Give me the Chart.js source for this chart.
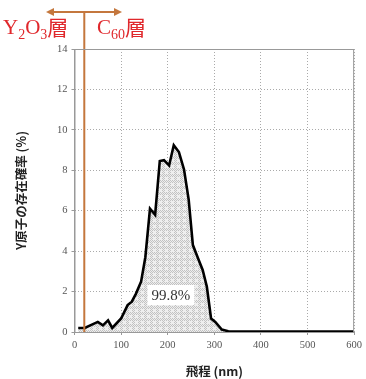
<!DOCTYPE html>
<html><head><meta charset="utf-8">
<script src="https://cdn.jsdelivr.net/npm/chart.js@4"></script>
<style>html,body{margin:0;padding:0;background:#fff;}#wrap{width:366px;height:379px;position:relative;}</style>
</head><body><div id="wrap"><canvas id="c" width="366" height="379"></canvas></div>
<script>
// Data
const rangeNm = [8, 22, 50, 61, 72, 81, 100, 114, 123, 132, 143, 152, 162, 173, 183, 192, 203, 213, 224, 235, 245, 254, 265, 275, 284, 293, 302, 316, 330, 600];
const probability = [0.2, 0.2, 0.5, 0.33, 0.58, 0.2, 0.67, 1.33, 1.5, 1.9, 2.5, 3.7, 6.1, 5.8, 8.46, 8.5, 8.24, 9.24, 8.9, 8.04, 6.55, 4.3, 3.65, 3.07, 2.24, 0.67, 0.5, 0.12, 0.04, 0.02];
const xTicks = [0, 100, 200, 300, 400, 500, 600];
const yTicks = [0, 2, 4, 6, 8, 10, 12, 14];
const interfaceNm = 21;
const totalLabel = "99.8%";
const leftLayer = ["Y", "2", "O", "3", "層"];
const rightLayer = ["C", "60", "層"];

const pts = rangeNm.map((x, i) => ({x, y: probability[i]}));

// fill pattern (fine grey checker with plaid stripes)
const pc = document.createElement('canvas'); pc.width = 6; pc.height = 6;
const pctx = pc.getContext('2d');
pctx.fillStyle = '#eeeeee'; pctx.fillRect(0,0,6,6);
pctx.fillStyle = '#c2c2c2';
for (let i = 0; i < 6; i++) for (let j = 0; j < 6; j++) {
  if ((i + j) % 2 === 0 && (i < 3 || j < 3)) pctx.fillRect(i, j, 1, 1);
}
const ctx0 = document.getElementById('c').getContext('2d');
const pattern = ctx0.createPattern(pc, 'repeat');

const red = '#e0282c';
const orange = '#c4773d';

const overlay = {
  id: 'overlay',
  afterDatasetsDraw(chart) {
    const {ctx, scales: {x, y}, chartArea} = chart;
    ctx.save();
    // label box
    const lx = x.getPixelForValue(207), ly = y.getPixelForValue(1.83);
    ctx.font = '15px "Liberation Serif", serif';
    const w = ctx.measureText(totalLabel).width;
    ctx.fillStyle = '#fff';
    ctx.fillRect(lx - w/2 - 4, ly - 10, w + 8, 20);
    ctx.fillStyle = '#333';
    ctx.textAlign = 'center'; ctx.textBaseline = 'middle';
    ctx.fillText(totalLabel, lx, ly + 1);
    // interface line
    const ix = x.getPixelForValue(interfaceNm);
    ctx.strokeStyle = orange; ctx.lineWidth = 2;
    ctx.beginPath(); ctx.moveTo(ix, chartArea.bottom); ctx.lineTo(ix, 12); ctx.stroke();
    // arrow
    const ax1 = 46, ax2 = 122, ay = 12;
    ctx.beginPath(); ctx.moveTo(ax1 + 4, ay); ctx.lineTo(ax2 - 4, ay); ctx.stroke();
    ctx.fillStyle = orange;
    ctx.beginPath(); ctx.moveTo(ax1, ay); ctx.lineTo(ax1 + 8, ay - 4); ctx.lineTo(ax1 + 8, ay + 4); ctx.closePath(); ctx.fill();
    ctx.beginPath(); ctx.moveTo(ax2, ay); ctx.lineTo(ax2 - 8, ay - 4); ctx.lineTo(ax2 - 8, ay + 4); ctx.closePath(); ctx.fill();
    // layer labels
    ctx.fillStyle = red; ctx.textAlign = 'left'; ctx.textBaseline = 'alphabetic';
    const big = '21px "Liberation Serif", serif', small = '14px "Liberation Serif", serif';
    const cjk = '21px "Noto Sans CJK JP", sans-serif';
    function drawSeq(parts, x0, base) {
      let cx = x0;
      parts.forEach((p) => {
        let f = big, dy = 0;
        if (/^\d+$/.test(p)) { f = small; dy = 5; }
        if (p === '層') { f = cjk; dy = 1; }
        ctx.font = f;
        ctx.fillText(p, cx, base + dy);
        cx += ctx.measureText(p).width;
      });
    }
    drawSeq(leftLayer, 3, 34);
    drawSeq(rightLayer, 97, 34);
    ctx.restore();
  }
};

new Chart(ctx0, {
  type: 'scatter',
  data: { datasets: [{
    data: pts, showLine: true, borderColor: '#000', borderWidth: 2.6,
    pointRadius: 0, fill: 'origin', backgroundColor: pattern, tension: 0
  }]},
  options: {
    responsive: false, animation: false,
    layout: { padding: { top: 49, right: 9, left: 0, bottom: 0 } },
    plugins: { legend: { display: false }, tooltip: { enabled: false } },
    scales: {
      x: {
        type: 'linear', min: 0, max: 600,
        afterBuildTicks: s => { s.ticks = xTicks.map(v => ({value: v})); },
        afterFit: s => { s.height = 47; },
        border: { color: '#999', width: 1, dash: [1, 2] },
        grid: { color: '#aaa', tickColor: '#999', tickLength: 3, lineWidth: 1 },
        ticks: { color: '#555', font: { family: '"Liberation Serif", serif', size: 10.5 }, padding: 4, maxRotation: 0 },
        title: { display: true, text: '飛程 (nm)', color: '#222', font: { family: '"Noto Sans CJK JP", sans-serif', size: 12.5, weight: 'bold' }, padding: { top: 8, bottom: 0 } }
      },
      y: {
        min: 0, max: 14,
        afterBuildTicks: s => { s.ticks = yTicks.map(v => ({value: v})); },
        afterFit: s => { s.width = 74.5; },
        border: { color: '#999', width: 1, dash: [1, 2] },
        grid: { color: '#aaa', tickColor: '#999', tickLength: 3 },
        ticks: { color: '#555', font: { family: '"Liberation Serif", serif', size: 10.5 }, padding: 4 },
        title: { display: true, text: 'Y原子の存在確率 (%)', color: '#222', font: { family: '"Noto Sans CJK JP", sans-serif', size: 12.5, weight: 'bold' }, padding: { top: 14, bottom: 0 } }
      }
    }
  },
  plugins: [overlay, {
    id: 'frame',
    afterDraw(chart) {
      const {ctx, chartArea: a} = chart;
      ctx.save(); ctx.strokeStyle = '#999'; ctx.lineWidth = 1;
      ctx.strokeRect(a.left + 0.5, a.top + 0.5, a.right - a.left - 1, a.bottom - a.top);
      ctx.restore();
    }
  }]
});
</script></body></html>
